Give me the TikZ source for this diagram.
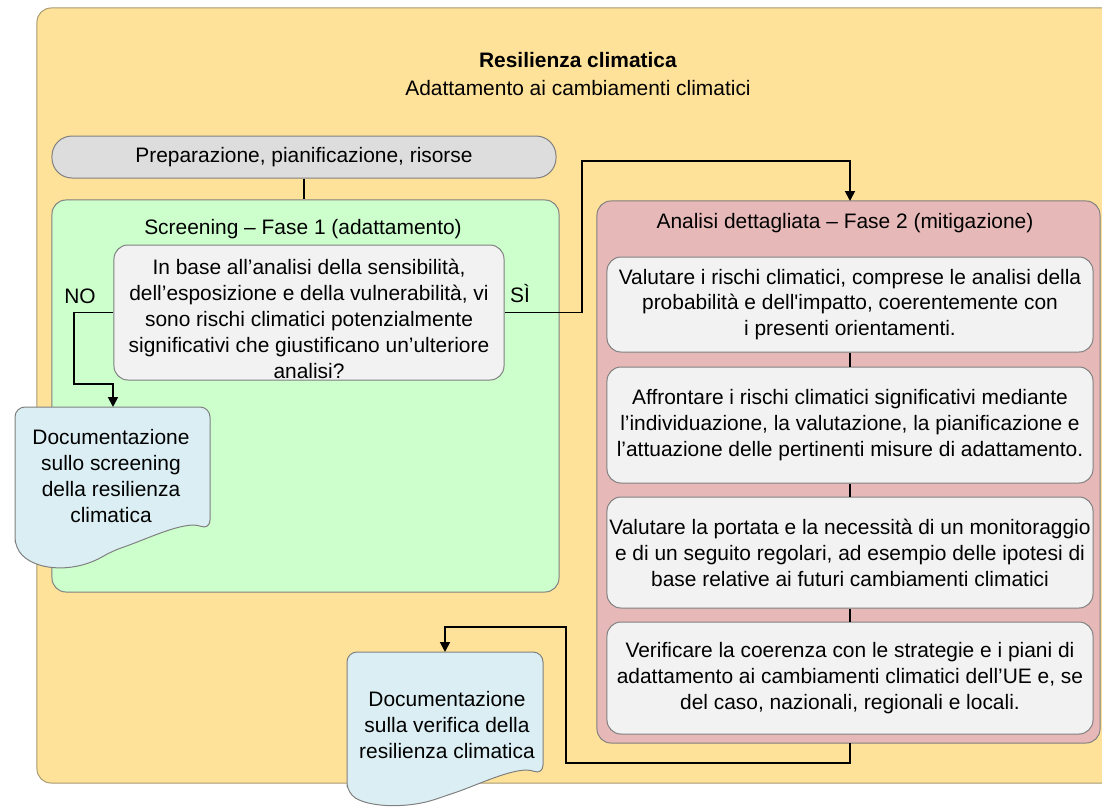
\documentclass[tikz,border=0pt]{standalone}
\usepackage{fontspec}
\setmainfont{Liberation Sans}
\usetikzlibrary{calc,positioning,arrows.meta}
\definecolor{giallo}{HTML}{FFE299}
\definecolor{bordogiallo}{HTML}{A89A70}
\definecolor{verde}{HTML}{CCFFCC}
\definecolor{rosa}{HTML}{E6B9B8}
\definecolor{grigio}{HTML}{DDDDDD}
\definecolor{bianco}{HTML}{F2F2F2}
\definecolor{azzurro}{HTML}{DAEEF3}
\definecolor{bordo}{HTML}{808080}
\tikzset{
  contenitore/.style={draw=bordo, line width=0.5bp, rounded corners=7bp, inner sep=0pt},
  casella/.style={contenitore, fill=bianco, align=center},
  documento/.style={draw=bordo, line width=0.5bp, fill=azzurro, rounded corners=5bp},
  testo/.style={align=center, inner sep=0pt},
  freccia/.style={line width=0.9bp, -{Triangle[length=5bp,width=5bp]}},
  linea/.style={line width=0.9bp},
}
\begin{document}
\begin{tikzpicture}[x=0.5bp, y=-0.5bp, font=\fontsize{10.5}{13}\selectfont]
	\useasboundingbox (0,0) rectangle (1102,808);
	% cornice
	\node[contenitore, draw=bordogiallo, fill=giallo, minimum width=541.5bp, minimum height=387.5bp] (clima) at (578.5,395.5) {};
	\node[testo] (titolo) at (578,74) {\textbf{Resilienza climatica}\\[1.5bp] Adattamento ai cambiamenti climatici};
	% preparazione e fase 1
	\node[contenitore, fill=grigio, rounded corners=10bp, minimum width=252bp, minimum height=21bp] (prep) at (304,157) {Preparazione, pianificazione, risorse};
	\node[contenitore, fill=verde, minimum width=253.5bp, minimum height=196bp] (screening) at (305.5,396) {};
	\node[testo] (fase1) at (303,229) {Screening – Fase 1 (adattamento)};
	\node[casella, minimum width=195bp, minimum height=67.5bp] (domanda) at (309,312.5) {};
	\node[testo] (quesito) at (309,319) {In base all’analisi della sensibilità,\\ dell’esposizione e della vulnerabilità, vi\\ sono rischi climatici potenzialmente\\ significativi che giustificano un’ulteriore\\ analisi?};
	\node[testo] (no) at (80,296) {NO};
	\node[testo] (si) at (520,294) {SÌ};
	% fase 2
	\node[contenitore, fill=rosa, minimum width=251.5bp, minimum height=271bp] (analisi) at (848.5,472) {};
	\node[testo] (fase2) at (845,223) {Analisi dettagliata – Fase 2 (mitigazione)};
	\node[casella, minimum width=243bp, minimum height=47.5bp] (passo1) at (850,304.5) {Valutare i rischi climatici, comprese le analisi della\\ probabilità e dell\textquotesingle impatto, coerentemente con\\ i presenti orientamenti.};
	\node[casella, minimum width=243bp, minimum height=58bp] (passo2) at (850,425) {Affrontare i rischi climatici significativi mediante\\ l’individuazione, la valutazione, la pianificazione e\\ l’attuazione delle pertinenti misure di adattamento.};
	\node[casella, minimum width=243bp, minimum height=55.5bp] (passo3) at (850,552.5) {Valutare la portata e la necessità di un monitoraggio\\ e di un seguito regolari, ad esempio delle ipotesi di\\ base relative ai futuri cambiamenti climatici};
	\node[casella, minimum width=243bp, minimum height=56bp] (passo4) at (850,678) {Verificare la coerenza con le strategie e i piani di\\ adattamento ai cambiamenti climatici dell’UE e, se\\ del caso, nazionali, regionali e locali.};
	% documenti
	\draw[documento] (15,548) -- (15,407) -- (210,407) -- (210,530) .. controls (185,520) and (145,540) .. (112,551) .. controls (77,572) and (39,572) .. (15,548) -- cycle;
	\node[testo] (doc1) at (111,476) {Documentazione\\ sullo screening\\ della resilienza\\ climatica};
	\coordinate (doc1top) at (113,407);
	\draw[documento] (347,793) -- (347,652) -- (543,652) -- (543,775) .. controls (518,765) and (478,785) .. (445,796) .. controls (410,808) and (372,808) .. (347,793) -- cycle;
	\node[testo] (doc2) at (447,725) {Documentazione\\ sulla verifica della\\ resilienza climatica};
	\coordinate (doc2top) at (445,652);
	% collegamenti
	\draw[linea] (prep) -- (screening.north -| prep);
	\draw[freccia] (domanda.west) -- (74,312.5) -- (74,384) -| (doc1top);
	\draw[freccia] (domanda.east) -- (582,312.5) |- (850,161) -- (850,201);
	\draw[linea] (passo1) -- (passo2);
	\draw[linea] (passo2) -- (passo3);
	\draw[linea] (passo3) -- (passo4);
	\draw[freccia] (850,743) -- (850,763) -| (566,627) -| (doc2top);
\end{tikzpicture}
\end{document}
